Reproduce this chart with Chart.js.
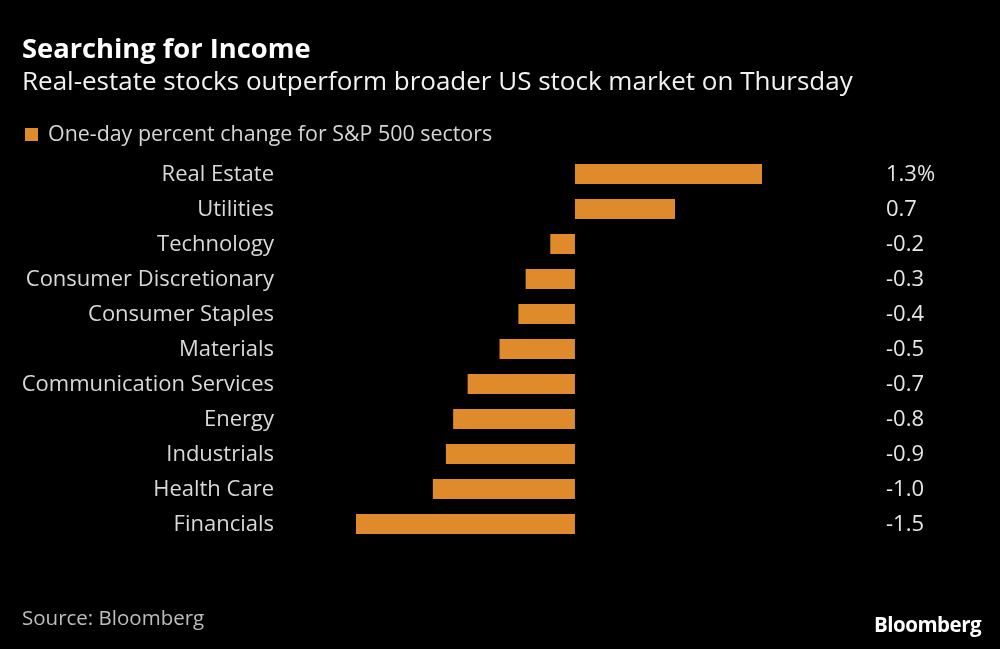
<!DOCTYPE html>
<html>
<head>
<meta charset="utf-8">
<script src="https://cdn.jsdelivr.net/npm/chart.js@4.4.1/dist/chart.umd.min.js"></script>
<style>
  html, body { margin:0; padding:0; background:#000; }
  #wrap { position:relative; width:1000px; height:649px; overflow:hidden; font-family:"Open Sans", sans-serif; }
  #chart { position:absolute; left:0; top:0; }
  .txt { position:absolute; white-space:nowrap; }
  #title { left:22px; top:29px; font-size:27.3px; font-weight:700; color:#fff; }
  #subtitle { left:22px; top:62px; font-size:26px; color:#f2f2f2; }
  #legend { left:25px; top:118px; font-size:21.4px; color:#d6d6d6; }
  #legend span { display:inline-block; width:13px; height:13px; background:#e08b2b; margin-right:10px; vertical-align:0px; }
  #source { left:22px; top:603px; font-size:20.5px; color:#bdbdbd; }
  #logo { left:874px; top:610px; font-size:20.5px; font-weight:700; color:#fff; letter-spacing:-0.5px; }
</style>
</head>
<body>
<div id="wrap">
  <canvas id="chart" width="1000" height="649"></canvas>
  <div class="txt" id="title">Searching for Income</div>
  <div class="txt" id="subtitle">Real-estate stocks outperform broader US stock market on Thursday</div>
  <div class="txt" id="legend"><span></span>One-day percent change for S&amp;P 500 sectors</div>
  <div class="txt" id="source">Source: Bloomberg</div>
  <div class="txt" id="logo">Bloomberg</div>
</div>
<script>
// sectors, top to bottom
const sectors = ['Real Estate', 'Utilities', 'Technology', 'Consumer Discretionary', 'Consumer Staples',
  'Materials', 'Communication Services', 'Energy', 'Industrials', 'Health Care', 'Financials'];
// one-day % change (bar lengths)
const changes = [1.29, 0.69, -0.17, -0.34, -0.39, -0.52, -0.74, -0.84, -0.89, -0.98, -1.51];
// printed labels on the right
const valueLabels = ['1.3%', '0.7', '-0.2', '-0.3', '-0.4', '-0.5', '-0.7', '-0.8', '-0.9', '-1.0', '-1.5'];

const orange = '#e08b2b';
const labelFont = { family: '"Open Sans", sans-serif', size: 22 };

// value labels right of the plot
const valueText = {
  id: 'valueText',
  afterDatasetsDraw(chart){
    const c = chart.ctx;
    const bars = chart.getDatasetMeta(0).data;
    c.save();
    c.font = labelFont.size + 'px ' + labelFont.family;
    c.fillStyle = '#e6e6e6';
    c.textAlign = 'left';
    c.textBaseline = 'middle';
    bars.forEach((b, i) => c.fillText(valueLabels[i], chart.chartArea.right + 124, b.y + 1));
    c.restore();
  }
};

new Chart(document.getElementById('chart'), {
  type: 'bar',
  data: {
    labels: sectors,
    datasets: [{ label: 'One-day percent change for S&P 500 sectors', data: changes,
      backgroundColor: orange, borderWidth: 0, categoryPercentage: 1, barPercentage: 0.571 }]
  },
  options: {
    indexAxis: 'y',
    responsive: false,
    animation: false,
    devicePixelRatio: 1,
    layout: { padding: { top: 156.5, bottom: 107.5, right: 238, left: 0 } },
    plugins: { legend: { display: false }, tooltip: { enabled: false } },
    scales: {
      x: { min: -1.51, max: 1.29, display: false, grid: { display: false } },
      y: {
        grid: { display: false, drawTicks: false },
        border: { display: false },
        ticks: { color: '#d9d9d9', font: labelFont, padding: 82, labelOffset: 1 },
        afterFit(scale){ scale.width = 356; }
      }
    }
  },
  plugins: [valueText]
});
</script>
</body>
</html>
